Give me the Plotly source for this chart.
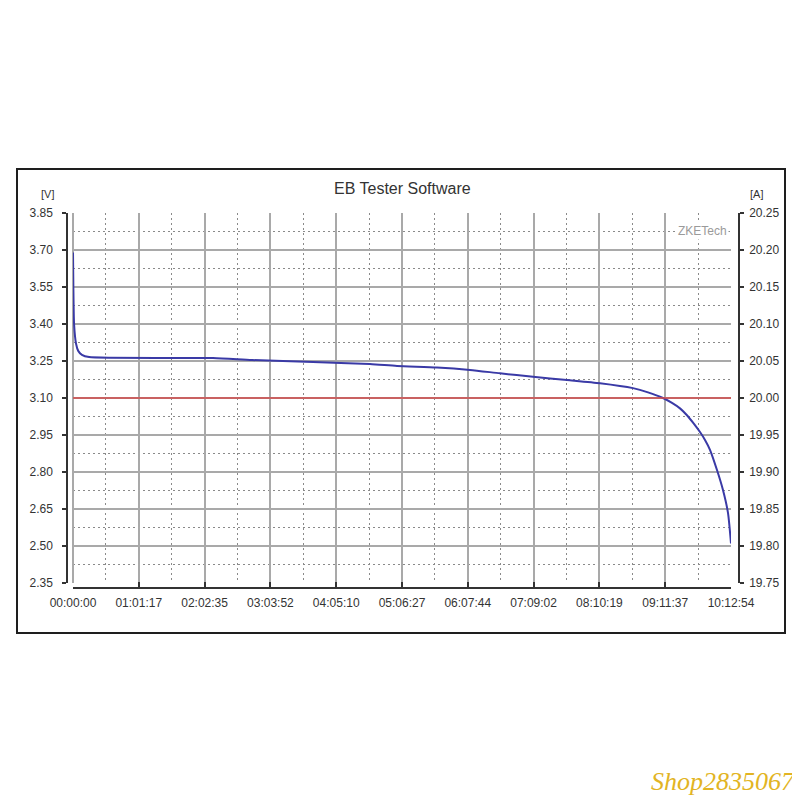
import plotly.graph_objects as go

# ---------------- data ----------------
tick_labels = ["00:00:00", "01:01:17", "02:02:35", "03:03:52", "04:05:10", "05:06:27",
               "06:07:44", "07:09:02", "08:10:19", "09:11:37", "10:12:54"]

time_s = [0, 20, 60, 170, 300, 500, 900, 7824, 10004, 13413, 16598, 18107, 20343,
          22187, 23864, 25708, 27608, 29452, 31296, 32135, 32973, 33476, 33923, 34314,
          34706, 35041, 35321, 35600, 35991, 36326, 36606, 36774]
voltage_v = [3.69, 3.55, 3.40, 3.32, 3.29, 3.275, 3.266, 3.262, 3.254, 3.246, 3.238,
             3.230, 3.224, 3.214, 3.200, 3.186, 3.173, 3.160, 3.140, 3.123, 3.100, 3.080,
             3.058, 3.030, 2.995, 2.962, 2.930, 2.890, 2.808, 2.727, 2.634, 2.510]

current_time_s = [0, 36774]
current_a = [20.00, 20.00]

v_range = [2.35, 3.85]
a_range = [19.75, 20.25]


def hms(s):
    h, m, sec = (int(p) for p in s.split(":"))
    return h * 3600 + m * 60 + sec


tick_vals = [hms(s) for s in tick_labels]
minor_vals = [(a + b) / 2 for a, b in zip(tick_vals[:-1], tick_vals[1:])]

# --------------- geometry helpers (screen pixel -> paper) ---------------
OFF = 8  # page body margin
W = H = 792
ML, MR, MT, MB = 42, 50, 192, 200
PW, PH = W - ML - MR, H - MT - MB


def px(x):
    return (x - OFF - ML) / PW


def py(y):
    return (H - MB - (y - OFF)) / PH


FONT = "Liberation Sans, Arial, sans-serif"
AXC = "#333333"
GRID = "#a9a9a9"
MINOR = "#8a8a8a"

fig = go.Figure()
fig.add_trace(go.Scatter(x=current_time_s, y=current_a, mode="lines", yaxis="y2",
                         line=dict(color="#d44a4a", width=1.5), showlegend=False,
                         hoverinfo="skip"))
fig.add_trace(go.Scatter(x=time_s, y=voltage_v, mode="lines",
                         line=dict(color="#3a3aa6", width=2, shape="spline", smoothing=0.6),
                         showlegend=False))

fig.update_layout(
    width=W, height=H,
    margin=dict(l=ML, r=MR, t=MT, b=MB, pad=0),
    paper_bgcolor="white", plot_bgcolor="white",
    font=dict(family=FONT, color=AXC, size=12),
    xaxis=dict(
        domain=[px(73), px(731)], range=[0, tick_vals[-1]],
        anchor="free", position=py(588),
        tickmode="array", tickvals=tick_vals, ticktext=tick_labels,
        ticks="inside", ticklen=5, tickwidth=1.5, tickcolor=AXC,
        showline=True, linecolor=AXC, linewidth=1.5,
        showgrid=True, gridcolor=GRID, gridwidth=1.5,
        zeroline=True, zerolinecolor=GRID, zerolinewidth=1.5,
        minor=dict(tickmode="array", tickvals=minor_vals, showgrid=True,
                   gridcolor=MINOR, griddash="2px,3px", gridwidth=1, ticks=""),
        tickfont=dict(size=12, color=AXC), ticklabelstandoff=4, fixedrange=True,
    ),
    yaxis=dict(
        domain=[py(583), py(213)], range=v_range,
        anchor="free", position=px(67),
        tick0=2.35, dtick=0.15, tickformat=".2f",
        ticks="outside", ticklen=4, tickwidth=1.5, tickcolor=AXC,
        showline=True, linecolor=AXC, linewidth=1.5,
        showgrid=True, gridcolor=GRID, gridwidth=1.5, zeroline=False,
        minor=dict(tick0=2.35, dtick=0.075, showgrid=True,
                   gridcolor=MINOR, griddash="2px,3px", gridwidth=1, ticks=""),
        tickfont=dict(size=12, color=AXC), ticklabelstandoff=7, fixedrange=True,
    ),
    yaxis2=dict(
        domain=[py(583), py(213)], range=a_range, overlaying="y", side="right",
        anchor="free", position=px(739),
        tick0=19.75, dtick=0.05, tickformat=".2f",
        ticks="outside", ticklen=4, tickwidth=1.5, tickcolor=AXC,
        showline=True, linecolor=AXC, linewidth=1.5,
        showgrid=False, zeroline=False,
        tickfont=dict(size=12, color=AXC), ticklabelstandoff=3, fixedrange=True,
    ),
    shapes=[
        dict(type="rect", xref="paper", yref="paper",
             x0=px(17), x1=px(785), y0=py(633), y1=py(169),
             line=dict(color="#1e1e1e", width=2), fillcolor="rgba(0,0,0,0)", layer="below"),
    ],
    annotations=[
        dict(text="EB Tester Software", xref="paper", yref="paper", x=px(402), y=py(189),
             showarrow=False, xanchor="center", yanchor="middle",
             font=dict(size=16, color="#333333", family=FONT)),
        dict(text="[V]", xref="paper", yref="paper", x=px(47), y=py(194),
             showarrow=False, xanchor="center", yanchor="middle",
             font=dict(size=11, color="#333333", family=FONT)),
        dict(text="[A]", xref="paper", yref="paper", x=px(756), y=py(194),
             showarrow=False, xanchor="center", yanchor="middle",
             font=dict(size=11, color="#333333", family=FONT)),
        dict(text="ZKETech", xref="paper", yref="paper", x=px(729), y=py(231),
             showarrow=False, xanchor="right", yanchor="middle", bgcolor="white",
             borderpad=1, font=dict(size=12, color="#9a9a9a", family=FONT)),
        dict(text="<i>Shop2835067</i>", xref="paper", yref="paper", x=px(797), y=py(798),
             showarrow=False, xanchor="right", yanchor="bottom",
             font=dict(size=26, color="#e2b423", family="Liberation Serif, serif")),
    ],
)

fig.write_html("out.html")
